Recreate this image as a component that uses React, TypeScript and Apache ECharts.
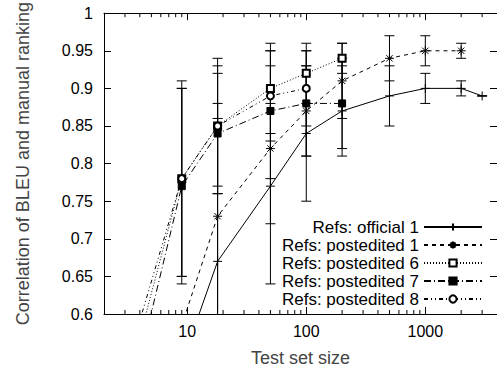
import React, { useEffect, useRef } from "react";
import * as echarts from "echarts";

const sizes = [2, 9, 18, 50, 100, 200, 500, 1000, 2000, 3000];
const seriesNames = [
  "Refs: official 1",
  "Refs: postedited 1",
  "Refs: postedited 6",
  "Refs: postedited 7",
  "Refs: postedited 8",
];
const official1 = [0.24, null, 0.67, 0.77, 0.84, 0.87, 0.89, 0.9, 0.9, 0.89];
const official1Low = [0.1, null, 0.48, 0.64, 0.75, 0.81, 0.85, 0.88, 0.89, 0.89];
const official1High = [0.38, null, 0.86, 0.88, 0.93, 0.93, 0.93, 0.92, 0.91, 0.89];
const post1 = [0.27, null, 0.73, 0.82, 0.87, 0.91, 0.94, 0.95, 0.95, null];
const post1Low = [0.13, null, 0.58, 0.72, 0.81, 0.86, 0.91, 0.93, 0.94, null];
const post1High = [0.41, null, 0.88, 0.93, 0.93, 0.96, 0.97, 0.97, 0.96, null];
const post6 = [0.39, 0.78, 0.85, 0.9, 0.92, 0.94, null, null, null, null];
const post6Low = [0.25, 0.65, 0.76, 0.83, 0.88, 0.92, null, null, null, null];
const post6High = [0.53, 0.9, 0.94, 0.96, 0.96, 0.96, null, null, null, null];
const post7 = [0.34, 0.77, 0.84, 0.87, 0.88, 0.88, null, null, null, null];
const post7Low = [0.2, 0.64, 0.77, 0.78, 0.81, 0.82, null, null, null, null];
const post7High = [0.48, 0.9, 0.93, 0.95, 0.95, 0.94, null, null, null, null];
const post8 = [0.43, 0.78, 0.85, 0.89, 0.9, null, null, null, null, null];
const post8Low = [0.29, 0.65, 0.76, 0.84, 0.85, null, null, null, null, null];
const post8High = [0.57, 0.91, 0.92, 0.95, 0.95, null, null, null, null, null];
const xMin = 2;
const xMax = 4000;
const yTicks = [0.6, 0.65, 0.7, 0.75, 0.8, 0.85, 0.9, 0.95, 1];

const FONT = "Liberation Sans, Arial, Helvetica, sans-serif";
const PLUS = "path://M0,5L10,5M5,0L5,10";
const STAR = "path://M0,5L10,5M5,0L5,10M1.5,1.5L8.5,8.5M1.5,8.5L8.5,1.5";

const App: React.FC = () => {
  const ref = useRef<HTMLDivElement>(null);

  useEffect(() => {
    if (!ref.current) return;
    const chart = echarts.init(ref.current, undefined, { renderer: "svg" });

    const values = [official1, post1, post6, post7, post8];
    const lows = [official1Low, post1Low, post6Low, post7Low, post8Low];
    const highs = [official1High, post1High, post6High, post7High, post8High];
    const dashes: any[] = ["solid", [4, 4], [1, 2], [7, 3, 1, 3], [4, 3, 1, 3, 1, 3]];
    const symbols = [PLUS, STAR, "emptyRect", "rect", "emptyCircle"];
    const symbolSizes = [9, 9, 7, 7, 7];

    // minor tick positions of the log axis (2..9 times each decade)
    const minorTicks: number[] = [];
    for (let d = 1; d <= 1000; d *= 10) {
      for (let k = 2; k <= 9; k++) {
        const v = k * d;
        if (v > xMin && v < xMax) minorTicks.push(v);
      }
    }

    const lineSeries = values.map((vals, i) => ({
      type: "line",
      name: seriesNames[i],
      xAxisIndex: 0,
      yAxisIndex: 0,
      data: sizes
        .map((s, j) => (vals[j] == null ? null : [s, vals[j]]))
        .filter((d) => d !== null),
      symbol: symbols[i],
      symbolSize: symbolSizes[i],
      showAllSymbol: true,
      clip: true,
      silent: true,
      z: 3,
      lineStyle: { color: "#000", width: 1, type: dashes[i] },
      itemStyle: {
        color: "#000",
        borderColor: "#000",
        borderWidth: 1,
      },
      emphasis: { disabled: true },
    }));

    const errSeries = values.map((vals, i) => ({
      type: "custom",
      name: "err" + i,
      xAxisIndex: 0,
      yAxisIndex: 0,
      silent: true,
      z: 2,
      data: sizes
        .map((s, j) => (vals[j] == null ? null : [s, lows[i][j], highs[i][j]]))
        .filter((d) => d !== null),
      encode: { x: 0, y: [1, 2] },
      renderItem: (params: any, api: any) => {
        const x = api.value(0);
        const lo = api.value(1);
        const hi = api.value(2);
        const a = api.coord([x, lo]);
        const b = api.coord([x, hi]);
        const cs = params.coordSys;
        const top = cs.y;
        const bot = cs.y + cs.height;
        const y1 = Math.min(Math.max(b[1], top), bot);
        const y2 = Math.min(Math.max(a[1], top), bot);
        const st = { stroke: "#000", lineWidth: 1 };
        const children: any[] = [];
        if (y2 > y1) {
          children.push({ type: "line", shape: { x1: a[0], y1, x2: a[0], y2 }, style: st });
        }
        [a[1], b[1]].forEach((yy) => {
          if (yy >= top - 0.5 && yy <= bot + 0.5) {
            children.push({
              type: "line",
              shape: { x1: a[0] - 5, y1: yy, x2: a[0] + 5, y2: yy },
              style: st,
            });
          }
        });
        return { type: "group", children };
      },
    }));

    const minorTickSeries = {
      type: "custom",
      name: "minorTicks",
      xAxisIndex: 0,
      yAxisIndex: 0,
      silent: true,
      z: 4,
      clip: false,
      data: minorTicks.map((v) => [v, yTicks[0]]),
      encode: { x: 0, y: 1 },
      renderItem: (params: any, api: any) => {
        const p = api.coord([api.value(0), api.value(1)]);
        const cs = params.coordSys;
        const st = { stroke: "#000", lineWidth: 1 };
        const top = cs.y;
        const bot = cs.y + cs.height;
        return {
          type: "group",
          children: [
            { type: "line", shape: { x1: p[0], y1: bot, x2: p[0], y2: bot - 4 }, style: st },
            { type: "line", shape: { x1: p[0], y1: top, x2: p[0], y2: top + 4 }, style: st },
          ],
        };
      },
    };

    const axisLine = { show: true, lineStyle: { color: "#000", width: 1 } };

    chart.setOption({
      animation: false,
      backgroundColor: "#fff",
      textStyle: { fontFamily: FONT },
      grid: { left: 104, top: 13, bottom: 56, right: -6 },
      legend: {
        data: seriesNames,
        orient: "vertical",
        right: 14,
        top: 218,
        padding: 0,
        align: "right",
        itemWidth: 58,
        itemHeight: 9,
        itemGap: 0,
        selectedMode: false,
        textStyle: { fontSize: 17, fontFamily: FONT, color: "#000", lineHeight: 18 },
      },
      xAxis: [
        {
          type: "log",
          logBase: 10,
          min: xMin,
          max: xMax,
          position: "bottom",
          axisLine,
          axisTick: { show: true, inside: true, length: 7, lineStyle: { color: "#000" } },
          axisLabel: {
            show: true,
            fontSize: 16,
            color: "#000",
            margin: 9,
            fontFamily: FONT,
            showMinLabel: false,
            showMaxLabel: false,
            formatter: (v: number) => String(Math.round(v)),
          },
          splitLine: { show: false },
          name: "Test set size",
          nameLocation: "middle",
          nameGap: 35,
          nameTextStyle: { fontSize: 18, color: "#444", fontFamily: FONT },
        },
        {
          type: "log",
          logBase: 10,
          min: xMin,
          max: xMax,
          position: "top",
          axisLine,
          axisTick: { show: true, inside: true, length: 7, lineStyle: { color: "#000" } },
          axisLabel: { show: false },
          splitLine: { show: false },
        },
      ],
      yAxis: [
        {
          type: "value",
          min: yTicks[0],
          max: yTicks[yTicks.length - 1],
          interval: 0.05,
          position: "left",
          axisLine,
          axisTick: { show: true, inside: true, length: 7, lineStyle: { color: "#000" } },
          axisLabel: { fontSize: 16, color: "#000", margin: 11, fontFamily: FONT },
          splitLine: { show: false },
          name: "Correlation of BLEU and manual ranking",
          nameLocation: "middle",
          nameGap: 72,
          nameTextStyle: { fontSize: 18, color: "#444", fontFamily: FONT },
        },
        {
          type: "value",
          min: yTicks[0],
          max: yTicks[yTicks.length - 1],
          interval: 0.05,
          position: "right",
          axisLine,
          axisTick: { show: true, inside: true, length: 7, lineStyle: { color: "#000" } },
          axisLabel: { show: false },
          splitLine: { show: false },
        },
      ],
      series: [...errSeries, minorTickSeries, ...lineSeries],
    });

    return () => chart.dispose();
  }, []);

  return (
    <div
      ref={ref}
      style={{ position: "absolute", left: 0, top: 0, width: 497, height: 372, background: "#fff" }}
    />
  );
};

export default App;
